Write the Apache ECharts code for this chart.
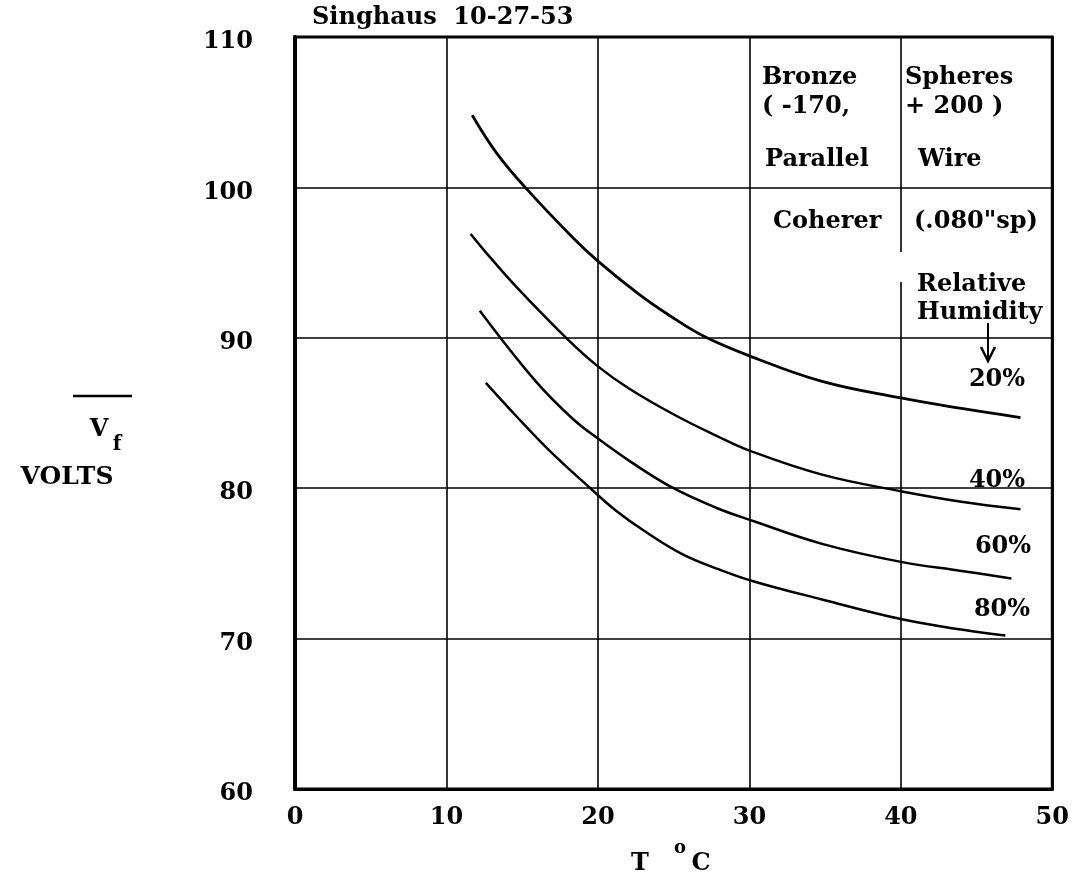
<!DOCTYPE html>
<html>
<head>
<meta charset="utf-8">
<script src="https://cdn.jsdelivr.net/npm/echarts@6/dist/echarts.min.js"></script>
<style>html,body{margin:0;padding:0;background:#fff;}#c{width:1072px;height:877px;}</style>
</head>
<body>
<div id="c"></div>
<script>
// Temperature (°C) and mean breakdown voltage (V) for each relative humidity curve
const t20 = [11.7, 13.3, 15.2, 18.4, 20, 22.7, 24.7, 27, 30, 34.8, 40, 44, 47.9];
const v20 = [104.8, 102.3, 100, 96.6, 95.1, 92.9, 91.5, 90.1, 88.8, 87.1, 86.0, 85.3, 84.7];
const t40 = [11.6, 12.5, 14.6, 17.9, 20, 22.1, 25.2, 27.8, 30, 34.8, 40, 44, 47.9];
const v40 = [96.9, 95.8, 93.4, 90.0, 88.1, 86.6, 84.8, 83.5, 82.5, 80.9, 79.8, 79.1, 78.6];
const t60 = [12.2, 15.9, 18.35, 20, 22.1, 24.8, 27.8, 30.3, 34.8, 40, 44, 47.3];
const v60 = [91.8, 87.1, 84.6, 83.3, 81.8, 80.1, 78.7, 77.8, 76.3, 75.1, 74.5, 74.0];
const t80 = [12.6, 14.6, 16.8, 19.5, 21.2, 23, 25.6, 28, 30.3, 34.8, 40, 44, 46.9];
const v80 = [87.0, 84.8, 82.5, 80.0, 78.5, 77.2, 75.6, 74.6, 73.8, 72.6, 71.3, 70.6, 70.2];
const humidityLabels = ['20%', '40%', '60%', '80%'];

const FONT = 'DejaVu Serif';
const pairs = (t, v) => t.map((x, i) => [x, v[i]]);
const curves = [pairs(t20, v20), pairs(t40, v40), pairs(t60, v60), pairs(t80, v80)];

const chart = echarts.init(document.getElementById('c'), null, {renderer: 'canvas'});

function txt(text, x, y, size, align) {
  return {
    type: 'text', x: x, y: y, z: 10,
    style: {text: text, font: 'bold ' + size + 'px "' + FONT + '"', fill: '#000',
            align: align || 'left', verticalAlign: 'middle'}
  };
}

const option = {
  backgroundColor: '#fff',
  animation: false,
  grid: {left: 295, top: 37, width: 762, height: 752, show: true,
         borderColor: '#000', borderWidth: 3, backgroundColor: 'transparent'},
  xAxis: {
    type: 'value', min: 0, max: 50, interval: 10,
    axisLine: {show: true, lineStyle: {color: '#000', width: 3}},
    axisTick: {show: false},
    splitLine: {show: true, lineStyle: {color: '#000', width: 1.6}},
    axisLabel: {color: '#000', fontFamily: FONT, fontWeight: 'bold', fontSize: 24, margin: 17}
  },
  yAxis: {
    type: 'value', min: 60, max: 110, interval: 10,
    axisLine: {show: true, lineStyle: {color: '#000', width: 4}},
    axisTick: {show: false},
    splitLine: {show: true, lineStyle: {color: '#000', width: 1.6}},
    axisLabel: {color: '#000', fontFamily: FONT, fontWeight: 'bold', fontSize: 24, margin: 42,
                verticalAlign: 'top', padding: [-7, 0, 0, 0]}
  },
  series: curves.map((d, i) => ({
    type: 'line', name: humidityLabels[i], data: d, smooth: 0.4,
    showSymbol: false, symbol: 'none',
    lineStyle: {color: '#000', width: i === 0 ? 2.8 : 2.5}
  })),
  graphic: [
    txt('Singhaus  10-27-53', 312, 18, 24),
    txt('Bronze', 762, 78, 24),
    txt('( -170,', 762, 107, 24),
    txt('Parallel', 765, 160, 24),
    txt('Spheres', 905, 78, 24),
    txt('+ 200 )', 905, 107, 24),
    txt('Wire', 918, 160, 24),
    txt('Coherer', 773, 222, 24),
    txt('(.080"sp)', 914, 222, 24),
    {type: 'rect', z: 5, shape: {x: 899, y: 252, width: 8, height: 30}, style: {fill: '#fff'}},
    txt('Relative', 917, 285, 24),
    txt('Humidity', 917, 313, 24),
    {type: 'polyline', z: 10, shape: {points: [[988, 323], [988, 360]]}, style: {stroke: '#000', lineWidth: 2}},
    {type: 'polyline', z: 10, shape: {points: [[981, 347], [988, 361], [995, 347]]}, style: {stroke: '#000', lineWidth: 2.5, fill: null}},
    txt(humidityLabels[0], 997, 380, 24, 'center'),
    txt(humidityLabels[1], 997, 481, 24, 'center'),
    txt(humidityLabels[2], 1003, 547, 24, 'center'),
    txt(humidityLabels[3], 1002, 610, 24, 'center'),
    // y axis name: overlined V_f, VOLTS
    {type: 'line', shape: {x1: 73, y1: 396, x2: 132, y2: 396}, style: {stroke: '#000', lineWidth: 2.5}},
    txt('V', 99, 430, 24, 'center'),
    txt('f', 117, 445, 20, 'center'),
    txt('VOLTS', 67, 477, 25, 'center'),
    // x axis name: T °C
    txt('T', 640, 864, 24, 'center'),
    txt('o', 680, 848, 18, 'center'),
    txt('C', 701, 864, 24, 'center')
  ]
};
chart.setOption(option);
</script>
</body>
</html>
